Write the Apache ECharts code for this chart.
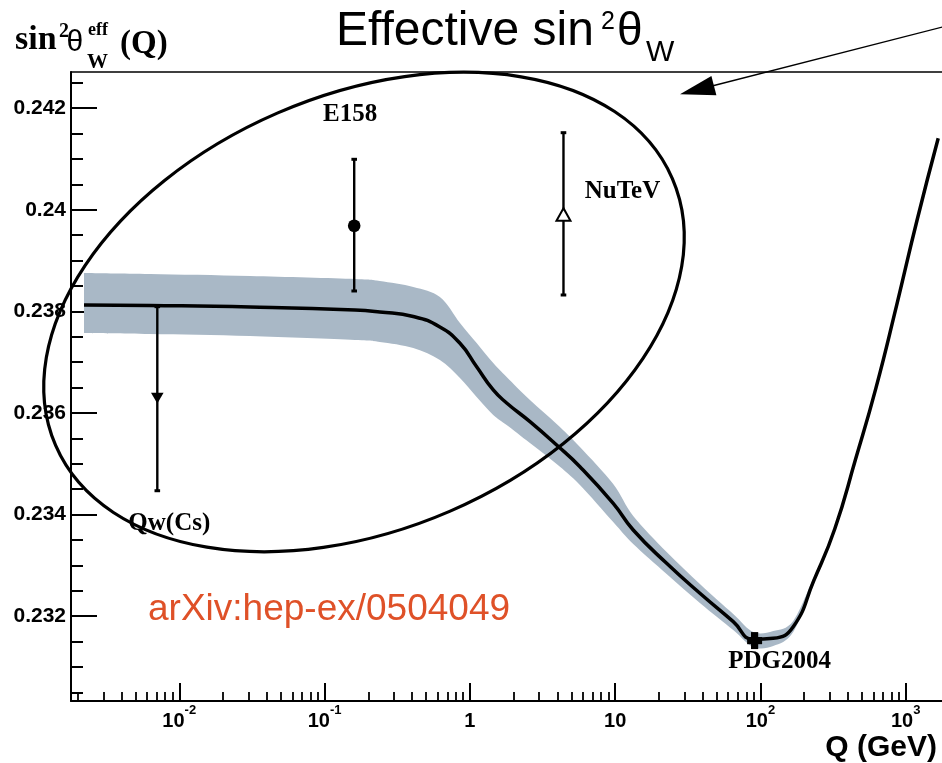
<!DOCTYPE html>
<html>
<head>
<meta charset="utf-8">
<title>Effective sin²θW running</title>
<script src="https://cdn.jsdelivr.net/npm/echarts@6.0.0/dist/echarts.min.js"></script>
<style>
  html, body { margin: 0; padding: 0; background: #fff; }
  #chart { width: 942px; height: 763px; }
</style>
</head>
<body>
<div id="chart"></div>
<script>
// ---------------- data ----------------
// Running weak mixing angle sin^2(theta_W)^eff versus Q (GeV): SM prediction
const curveQ = [0.00221, 0.00629, 0.0307, 0.162, 0.240, 0.408, 0.622, 0.855, 1.114, 1.449,
                1.792, 2.593, 3.958, 5.725, 9.70, 13.32, 22.62, 38.33, 65.0, 89.2,
                122.5, 168.2, 233.0, 325.2, 450.1, 623.7, 864.3, 1198, 1674];
const curveValue = [0.238126, 0.238116, 0.238087, 0.238028, 0.237988, 0.237900, 0.237693, 0.237372, 0.236911, 0.236453,
                    0.236197, 0.235829, 0.235370, 0.234943, 0.234222, 0.233697, 0.233041, 0.232451, 0.231892, 0.231545,
                    0.231565, 0.231793, 0.232700, 0.233722, 0.235073, 0.236490, 0.238110, 0.239799, 0.241407];

// Theory uncertainty band
const bandQ = [0.00221, 0.00629, 0.0307, 0.162, 0.240, 0.408, 0.622, 0.855, 1.114, 1.449,
               1.792, 2.593, 3.958, 5.725, 9.70, 13.32, 22.62, 38.33, 65.0, 89.2,
               122.5, 168.2, 233.0];
const bandLow = [0.237575, 0.237555, 0.237516, 0.237437, 0.237398, 0.237280, 0.237043, 0.236689, 0.236315, 0.235961,
                 0.235764, 0.235409, 0.234996, 0.234583, 0.233854, 0.233421, 0.232831, 0.232260, 0.231728, 0.231394,
                 0.231413, 0.231689, 0.232630];
const bandHigh = [0.238756, 0.238736, 0.238697, 0.238638, 0.238598, 0.238480, 0.238283, 0.237772, 0.237378, 0.236984,
                  0.236709, 0.236256, 0.235783, 0.235331, 0.234602, 0.233972, 0.233264, 0.232634, 0.232043, 0.231689,
                  0.231709, 0.231906, 0.232770];

// Measurements
const pointNames = ['Qw(Cs)', 'E158', 'NuTeV', 'PDG2004'];
const pointQ     = [0.00706, 0.160, 4.41, 91.2];
const pointValue = [0.236295, 0.239687, 0.239898, 0.23152];
const pointLow   = [0.234470, 0.238402, 0.238323, 0.23152];
const pointHigh  = [0.238093, 0.240994, 0.241518, 0.23152];

// Axis ticks
const xTickValues = [0.01, 0.1, 1, 10, 100, 1000];
const xTickLabels = ['10^-2', '10^-1', '1', '10', '10^2', '10^3'];
const yTickValues = [0.232, 0.234, 0.236, 0.238, 0.24, 0.242];
const yTickLabels = ['0.232', '0.234', '0.236', '0.238', '0.24', '0.242'];
const yMinorTickValues = [0.2305, 0.231, 0.2315, 0.2325, 0.233, 0.2335, 0.2345, 0.235, 0.2355,
                          0.2365, 0.237, 0.2375, 0.2385, 0.239, 0.2395, 0.2405, 0.241, 0.2415, 0.2425];

// ---------------- layout & style ----------------
const X_MIN = 0.001798, X_MAX = 1777.6;
const Y_MIN = 0.2303307, Y_MAX = 0.2427126;
const SANS = '"Liberation Sans", Arial, Helvetica, sans-serif';
const SERIF = '"Liberation Serif", "Times New Roman", serif';
const BAND_COLOR = '#a9b8c6';

// decade sub-ticks 2..9 inside the axis range
const xMinorTickValues = [];
for (let e = -3; e <= 3; e++) {
  for (let m = 2; m <= 9; m++) {
    const v = +(m * Math.pow(10, e)).toPrecision(3);
    if (v > X_MIN && v < X_MAX) xMinorTickValues.push(v);
  }
}

const markerKind = ['triangleDown', 'circle', 'triangleOpen', 'cross'];
const labelOffset = [[12, 126], [-4, -111], [59, -23], [25, 21]];

function xTickIndex(value) {
  return xTickValues.findIndex(t => Math.abs(Math.log10(t) - Math.log10(value)) < 1e-6);
}
// mantissa part of a power-of-ten label; a blank slot keeps room for the exponent
function xBaseLabel(value) {
  const i = xTickIndex(value);
  if (i < 0) return '';
  const parts = xTickLabels[i].split('^');
  if (!parts[1]) return '{b|' + parts[0] + '}';
  return '{b|' + parts[0] + '}{' + (parts[1].charAt(0) === '-' ? 'gm' : 'gd') + '| }';
}
// exponent part, drawn one line higher by a second axis
function xExpLabel(value) {
  const i = xTickIndex(value);
  if (i < 0) return '';
  const parts = xTickLabels[i].split('^');
  if (!parts[1]) return '';
  return '{gb| }{s|' + parts[1] + '}';
}
function yLabel(value) {
  const i = yTickValues.findIndex(t => Math.abs(t - value) < 1e-9);
  return i < 0 ? '' : yTickLabels[i];
}

// Catmull-Rom segments through pixel points (used for the band outline)
function splineSegments(pts) {
  let d = '';
  for (let i = 0; i < pts.length - 1; i++) {
    const p0 = pts[Math.max(i - 1, 0)], p1 = pts[i], p2 = pts[i + 1], p3 = pts[Math.min(i + 2, pts.length - 1)];
    const c1 = [p1[0] + (p2[0] - p0[0]) / 6, p1[1] + (p2[1] - p0[1]) / 6];
    const c2 = [p2[0] - (p3[0] - p1[0]) / 6, p2[1] - (p3[1] - p1[1]) / 6];
    d += ' C' + c1[0] + ',' + c1[1] + ' ' + c2[0] + ',' + c2[1] + ' ' + p2[0] + ',' + p2[1];
  }
  return d;
}

function renderBand(params, api) {
  if (params.dataIndexInside !== 0) return;
  const n = params.dataInsideLength;
  const upper = [], lower = [];
  for (let i = 0; i < n; i++) {
    const q = api.value(0, i);
    upper.push(api.coord([q, api.value(2, i)]));
    lower.push(api.coord([q, api.value(1, i)]));
  }
  lower.reverse();
  const d = 'M' + upper[0][0] + ',' + upper[0][1] + splineSegments(upper) +
            ' L' + lower[0][0] + ',' + lower[0][1] + splineSegments(lower) + ' Z';
  return { type: 'path', shape: { pathData: d }, style: { fill: BAND_COLOR }, silent: true };
}

function renderPoint(params, api) {
  const i = params.dataIndex;
  const q = api.value(0);
  const c = api.coord([q, api.value(1)]);
  const lo = api.coord([q, api.value(2)]);
  const hi = api.coord([q, api.value(3)]);
  const x = c[0], y = c[1];
  const children = [];
  if (Math.abs(lo[1] - hi[1]) > 4) {
    children.push({ type: 'line', shape: { x1: x, y1: hi[1], x2: x, y2: lo[1] }, style: { stroke: '#000', lineWidth: 2.4 } });
    children.push({ type: 'line', shape: { x1: x - 2.8, y1: hi[1], x2: x + 2.8, y2: hi[1] }, style: { stroke: '#000', lineWidth: 3 } });
    children.push({ type: 'line', shape: { x1: x - 2.8, y1: lo[1], x2: x + 2.8, y2: lo[1] }, style: { stroke: '#000', lineWidth: 3 } });
  }
  const kind = markerKind[i];
  if (kind === 'circle') {
    children.push({ type: 'circle', shape: { cx: x, cy: y, r: 6.3 }, style: { fill: '#000' } });
  } else if (kind === 'triangleDown') {
    children.push({ type: 'polygon', shape: { points: [[x - 6.3, y - 5.3], [x + 6.3, y - 5.3], [x, y + 5.6]] }, style: { fill: '#000' } });
  } else if (kind === 'triangleOpen') {
    children.push({ type: 'polygon', shape: { points: [[x, y - 6.8], [x - 7, y + 5.8], [x + 7, y + 5.8]] }, style: { fill: '#fff', stroke: '#000', lineWidth: 2 } });
  } else if (kind === 'cross') {
    children.push({ type: 'rect', shape: { x: x - 7.5, y: y - 3.6, width: 15, height: 7.2 }, style: { fill: '#000' } });
    children.push({ type: 'rect', shape: { x: x - 3.6, y: y - 8.5, width: 7.2, height: 17 }, style: { fill: '#000' } });
  }
  const off = labelOffset[i];
  children.push({
    type: 'text', x: x + off[0], y: y + off[1],
    style: { text: pointNames[i], font: 'bold 25px ' + SERIF, fill: '#000', align: 'center', verticalAlign: 'middle' }
  });
  return { type: 'group', children: children };
}

// ---------------- annotations ----------------
function txt(x, y, text, font, extra) {
  return {
    type: 'text', x: x, y: y, z: 100, silent: true,
    style: Object.assign({ text: text, font: font, fill: '#000', align: 'left', verticalAlign: 'middle' }, extra || {})
  };
}

const graphics = [
  // plot title
  txt(336, 32, 'Effective sin', '48px ' + SANS),
  txt(601, 22.5, '2', '25px ' + SANS),
  txt(617, 32, 'θ', '46px ' + SANS),
  txt(646, 52.5, 'W', '30px ' + SANS),
  // y-axis title
  txt(15, 40.6, 'sin', 'bold 34px ' + SERIF),
  txt(59, 31.7, '2', 'bold 20px ' + SERIF),
  txt(66.5, 42.5, 'θ', '30px ' + SANS),
  txt(88, 30.6, 'eff', 'bold 18px ' + SERIF),
  txt(87, 62.9, 'W', 'bold 21px ' + SERIF),
  txt(120, 44.4, '(Q)', 'bold 33px ' + SERIF),
  // x-axis title
  txt(937, 747.9, 'Q (GeV)', 'bold 30px ' + SANS, { align: 'right' }),
  // reference
  txt(148, 610, 'arXiv:hep-ex/0504049', '37px ' + SANS, { fill: '#df5128' }),
  // low-energy measurements ring
  {
    type: 'ellipse', x: 364, y: 312, rotation: 23.4 * Math.PI / 180, z: 90, silent: true,
    shape: { cx: 0, cy: 0, rx: 336, ry: 217 },
    style: { fill: 'rgba(0,0,0,0)', stroke: '#000', lineWidth: 3.2 }
  },
  // pointer arrow
  {
    type: 'line', z: 100, silent: true,
    shape: { x1: 943, y1: 26.9, x2: 712, y2: 86 },
    style: { stroke: '#000', lineWidth: 1.3 }
  },
  {
    type: 'polygon', z: 100, silent: true,
    shape: { points: [[680, 94.3], [711.4, 75.9], [716.4, 95.3]] },
    style: { fill: '#000' }
  }
];

// ---------------- chart ----------------
const chart = echarts.init(document.getElementById('chart'), null, { renderer: 'canvas' });

const gridRect = { left: 71, right: 0, top: 72, bottom: 62, outerBoundsMode: 'none', containLabel: false };
const labelFont = { fontFamily: SANS, fontWeight: 'bold', color: '#000' };

const option = {
  animation: false,
  backgroundColor: '#fff',
  grid: [Object.assign({}, gridRect), Object.assign({}, gridRect)],
  xAxis: [
    {
      gridIndex: 0, type: 'log', logBase: 10, min: X_MIN, max: X_MAX, position: 'bottom',
      axisLine: { show: true, onZero: false, lineStyle: { color: '#000', width: 2 } },
      axisTick: { show: true, inside: true, length: 18, customValues: xTickValues, lineStyle: { color: '#000', width: 2 } },
      axisLabel: {
        show: true, customValues: xTickValues, margin: 10, formatter: xBaseLabel,
        rich: {
          b: Object.assign({ fontSize: 20, lineHeight: 20 }, labelFont),
          gm: { width: 11.6, fontSize: 13, lineHeight: 20 },
          gd: { width: 7.2, fontSize: 13, lineHeight: 20 }
        }
      },
      splitLine: { show: false }, minorTick: { show: false }, minorSplitLine: { show: false }
    },
    {
      gridIndex: 0, type: 'log', logBase: 10, min: X_MIN, max: X_MAX, position: 'top',
      axisLine: { show: true, onZero: false, lineStyle: { color: '#000', width: 1.5 } },
      axisTick: { show: false }, axisLabel: { show: false }, splitLine: { show: false }
    },
    {
      gridIndex: 1, type: 'log', logBase: 10, min: X_MIN, max: X_MAX, position: 'bottom',
      axisLine: { show: false, onZero: false },
      axisTick: { show: true, inside: true, length: 9, customValues: xMinorTickValues, lineStyle: { color: '#000', width: 1.8 } },
      axisLabel: {
        show: true, customValues: xTickValues, margin: 3, formatter: xExpLabel,
        rich: {
          gb: { width: 22.2, fontSize: 13, lineHeight: 13 },
          s: Object.assign({ fontSize: 13, lineHeight: 13 }, labelFont)
        }
      },
      splitLine: { show: false }
    }
  ],
  yAxis: [
    {
      gridIndex: 0, type: 'value', min: Y_MIN, max: Y_MAX, position: 'left',
      axisLine: { show: true, onZero: false, lineStyle: { color: '#000', width: 2 } },
      axisTick: { show: true, inside: true, length: 26, customValues: yTickValues, lineStyle: { color: '#000', width: 2 } },
      axisLabel: Object.assign({ show: true, customValues: yTickValues, margin: 5, formatter: yLabel, fontSize: 21 }, labelFont),
      splitLine: { show: false }
    },
    {
      gridIndex: 1, type: 'value', min: Y_MIN, max: Y_MAX, position: 'left',
      axisLine: { show: false, onZero: false },
      axisTick: { show: true, inside: true, length: 12, customValues: yMinorTickValues, lineStyle: { color: '#000', width: 2 } },
      axisLabel: { show: false }, splitLine: { show: false }
    }
  ],
  series: [
    {
      name: 'band', type: 'custom', xAxisIndex: 0, yAxisIndex: 0, z: 2, silent: true,
      renderItem: renderBand,
      encode: { x: 0, y: 1 },
      data: bandQ.map((q, i) => [q, bandLow[i], bandHigh[i]])
    },
    {
      name: 'SM', type: 'line', xAxisIndex: 0, yAxisIndex: 0, z: 3,
      data: curveQ.map((q, i) => [q, curveValue[i]]),
      smooth: 0.5, symbol: 'none', clip: true,
      lineStyle: { color: '#000', width: 3.5 }
    },
    {
      name: 'measurements', type: 'custom', xAxisIndex: 0, yAxisIndex: 0, z: 4,
      renderItem: renderPoint,
      encode: { x: 0, y: 1 },
      data: pointQ.map((q, i) => [q, pointValue[i], pointLow[i], pointHigh[i]])
    }
  ],
  graphic: graphics
};

chart.setOption(option);
</script>
</body>
</html>
